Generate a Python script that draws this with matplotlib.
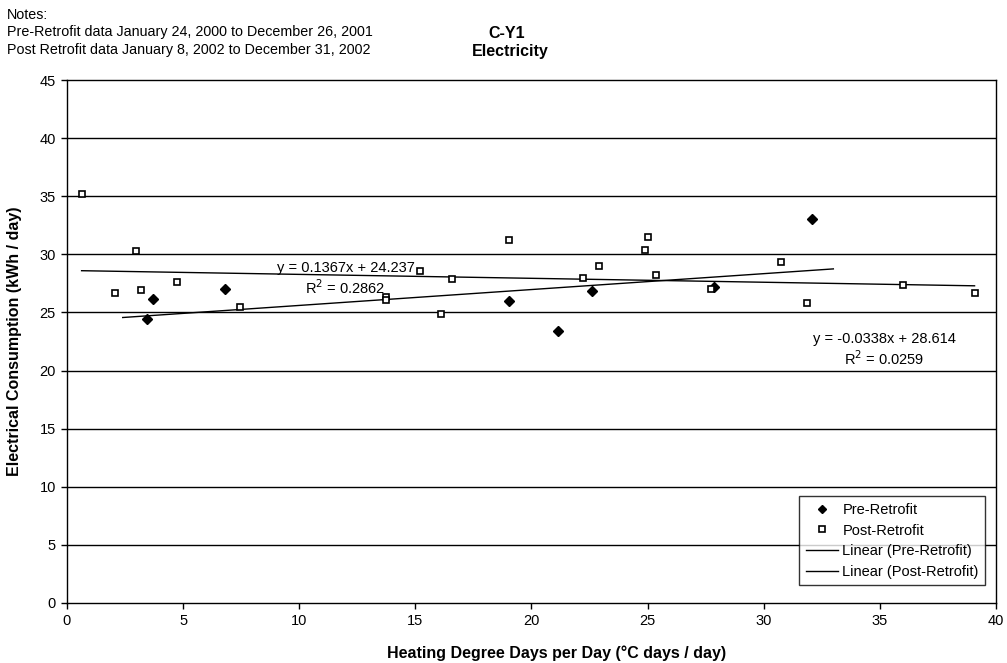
import numpy as np
import matplotlib
matplotlib.use("Agg")
import matplotlib.pyplot as plt

plt.rcParams["font.family"] = ["Liberation Sans", "DejaVu Sans"]

# heating degree days per day vs daily electricity use
pre_hdd = [3.46, 3.71, 6.81, 19.05, 21.16, 22.6, 27.87, 32.07]
pre_kwh = [24.4, 26.2, 27.0, 26.0, 23.4, 26.85, 27.17, 33.0]
post_hdd = [0.63, 2.06, 2.97, 3.18, 4.72, 7.44, 13.72, 13.72, 15.18, 16.1, 16.6,
            19.02, 22.2, 22.9, 24.9, 25.03, 25.36, 27.73, 30.74, 31.88, 36.0, 39.08]
post_kwh = [35.2, 26.7, 30.3, 26.9, 27.65, 25.45, 26.35, 26.05, 28.6, 24.9, 27.85,
            31.2, 27.94, 29.0, 30.4, 31.5, 28.2, 27.0, 29.3, 25.8, 27.35, 26.7]

# trendline coefficients (slope, intercept, R^2) and x-extent
pre_fit = (0.1367, 24.237, 0.2862)
post_fit = (-0.0338, 28.614, 0.0259)
pre_span = (2.4, 33.0)
post_span = (min(post_hdd), max(post_hdd))

fig = plt.figure(figsize=(10.07, 6.63), dpi=100)
ax = fig.add_axes([0.0665, 0.0905, 0.9225, 0.7888])

for yv in range(5, 45, 5):
    ax.axhline(yv, color="black", lw=1.0, zorder=1)

xs = np.array(pre_span)
ax.plot(pre_hdd, pre_kwh, "D", ms=5, color="black", mec="black", ls="none",
        label="Pre-Retrofit", zorder=3)
ax.plot(post_hdd, post_kwh, "s", ms=5, mfc="white", mec="black", mew=1.2,
        ls="none", label="Post-Retrofit", zorder=3)
ax.plot(xs, pre_fit[0] * xs + pre_fit[1], "-", color="black", lw=1.0,
        label="Linear (Pre-Retrofit)", zorder=2)
xs = np.array(post_span)
ax.plot(xs, post_fit[0] * xs + post_fit[1], "-", color="black", lw=1.0,
        label="Linear (Post-Retrofit)", zorder=2)

eqfs = 10.5
ax.text(12.0, 28.85, f"y = {pre_fit[0]}x + {pre_fit[1]}", ha="center", va="center", fontsize=eqfs)
ax.text(12.0, 27.15, f"R$^2$ = {pre_fit[2]}", ha="center", va="center", fontsize=eqfs)
ax.text(35.2, 22.75, f"y = {post_fit[0]}x + {post_fit[1]}", ha="center", va="center", fontsize=eqfs)
ax.text(35.2, 21.0, f"R$^2$ = {post_fit[2]}", ha="center", va="center", fontsize=eqfs)

ax.set_xlim(0, 40)
ax.set_ylim(0, 45)
ax.set_xticks(range(0, 41, 5))
ax.set_yticks(range(0, 46, 5))
ax.tick_params(direction="out", length=4, width=1, colors="black", labelsize=10.5, pad=4)
for s in ax.spines.values():
    s.set_color("black")
    s.set_linewidth(1.0)

ax.set_xlabel("Heating Degree Days per Day (°C days / day)", fontsize=11.5,
              fontweight="bold")
ax.xaxis.set_label_coords(0.527, -0.082)
ax.set_ylabel("Electrical Consumption (kWh / day)", fontsize=11.5, fontweight="bold")
ax.yaxis.set_label_coords(-0.048, 0.5)

leg = ax.legend(loc="lower right", bbox_to_anchor=(0.9965, 0.02), fontsize=10.5,
                frameon=True, fancybox=False, edgecolor="black", handlelength=2.2,
                handletextpad=0.3, borderpad=0.45, labelspacing=0.45, markerscale=0.9)
leg.get_frame().set_linewidth(1.0)

nfs = 10.3
fig.text(0.007, 0.978, "Notes:", fontsize=nfs, va="center")
fig.text(0.007, 0.951, "Pre-Retrofit data January 24, 2000 to December 26, 2001", fontsize=nfs, va="center")
fig.text(0.007, 0.924, "Post Retrofit data January 8, 2002 to December 31, 2002", fontsize=nfs, va="center")
fig.text(0.503, 0.950, "C-Y1", fontsize=11.5, fontweight="bold", ha="center", va="center")
fig.text(0.507, 0.923, "Electricity", fontsize=11.5, fontweight="bold", ha="center", va="center")

fig.savefig("out.png", dpi=100)
